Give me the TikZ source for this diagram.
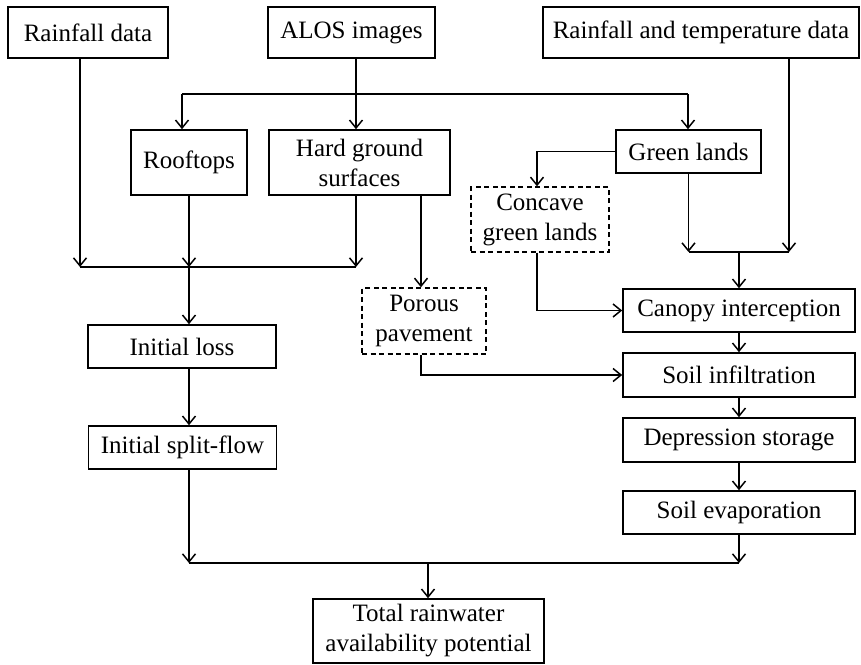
\documentclass[tikz,border=0pt]{standalone}
\usepackage{fontspec}
\setmainfont{Liberation Serif}
\usetikzlibrary{arrows.meta}

\tikzset{
  block/.style={draw, line width=1.6pt, inner sep=0pt, align=center,
    font=\fontsize{25}{30}\selectfont},
  dashblock/.style={block, line width=1.4pt, dash pattern=on 5pt off 3.5pt},
  flow/.style={line width=1.5pt, -{Straight Barb[length=8pt,width=13pt]}},
  link/.style={line width=1.5pt}
}

\begin{document}
\begin{tikzpicture}[x=1pt, y=-1pt]
    \useasboundingbox (0,0) rectangle (861,664);
    % inputs
    \node[block, minimum width=160pt, minimum height=51pt] (rain) at (88,32.5) {Rainfall data};
    \node[block, minimum width=167pt, minimum height=51pt] (alos) at (351.5,32.5) {ALOS images};
    \node[block, minimum width=316pt, minimum height=51pt] (raintemp) at (701,32.5) {Rainfall and temperature data};
    % land covers
    \node[block, minimum width=116pt, minimum height=65pt] (roof) at (189,162.5) {Rooftops};
    \node[block, minimum width=181pt, minimum height=65pt] (hard) at (359.5,162.5) {Hard ground\\surfaces};
    \node[block, minimum width=145pt, minimum height=43pt] (green) at (688.5,151.5) {Green lands};
    \node[dashblock, minimum width=138pt, minimum height=65pt] (concave) at (540,219.5) {Concave\\green lands};
    \node[dashblock, minimum width=124pt, minimum height=66pt] (porous) at (424,321) {Porous\\pavement};
    % processes
    \node[block, minimum width=188pt, minimum height=43pt] (loss) at (182,346.5) {Initial loss};
    \node[block, minimum width=188pt, minimum height=43pt] (split) at (182.5,447.5) {Initial split-flow};
    \node[block, minimum width=232pt, minimum height=43pt] (canopy) at (739,310.5) {Canopy interception};
    \node[block, minimum width=232pt, minimum height=44pt] (infil) at (739,375) {Soil infiltration};
    \node[block, minimum width=232pt, minimum height=44pt] (depr) at (739,440) {Depression storage};
    \node[block, minimum width=232pt, minimum height=43pt] (evap) at (739,512.5) {Soil evaporation};
    \node[block, minimum width=231pt, minimum height=64pt] (total) at (428.5,631) {Total rainwater\\availability potential};

    % junctions
    \coordinate (busA) at (356,94);
    \coordinate (busB) at (189,267);
    \coordinate (busC) at (739,252);
    \coordinate (busD) at (428,563);

    % ALOS split
    \draw[link] (alos.south -| busA) -- (busA);
    \draw[link] (182,94) -- (688,94);
    \draw[flow] (182,94) -- (roof.north -| 182,0);
    \draw[flow] (busA) -- (hard.north -| busA);
    \draw[flow] (688,94) -- (green.north -| 688,0);

    % impervious branch
    \draw[flow] (rain.south -| 80,0) -- (80,267);
    \draw[flow] (roof.south -| busB) -- (busB);
    \draw[flow] (hard.south -| busA) -- (busA |- busB);
    \draw[link] (80,267) -- (busA |- busB);
    \draw[flow] (busB) -- (loss.north -| busB);
    \draw[flow] (loss.south -| busB) -- (split.north -| busB);
    \draw[flow] (hard.south -| 421,0) -- (porous.north -| 421,0);
    \draw[flow] (porous.south -| 421,0) |- (infil.west);

    % green branch
    \draw[flow] (green.west) -| (concave.north -| 537,0);
    \draw[flow] (concave.south -| 537,0) |- (canopy.west);
    \draw[flow] (green.south) -- (green.south |- busC);
    \draw[flow] (raintemp.south -| 789,0) -- (789,252);
    \draw[link] (green.south |- busC) -- (789,252);
    \draw[flow] (busC) -- (canopy.north);
    \draw[flow] (canopy) -- (infil);
    \draw[flow] (infil) -- (depr);
    \draw[flow] (depr) -- (evap);

    % totals
    \draw[flow] (split.south -| busB) -- (busB |- busD);
    \draw[flow] (evap.south) -- (evap.south |- busD);
    \draw[link] (busB |- busD) -- (evap.south |- busD);
    \draw[flow] (busD) -- (total.north -| busD);
\end{tikzpicture}
\end{document}
